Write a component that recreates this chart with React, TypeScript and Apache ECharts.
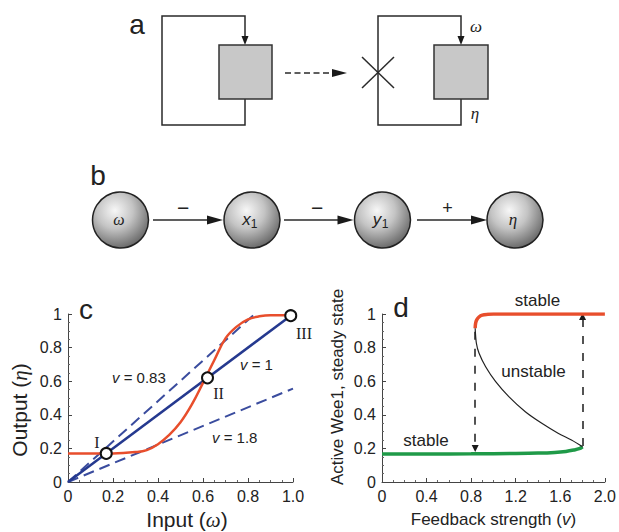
import React, { useEffect, useRef } from "react";
import * as echarts from "echarts";

// ---------- Panel c data ----------
const cXTicks = [0, 0.2, 0.4, 0.6, 0.8, 1.0];
const cRedX = [0, 0.1, 0.2, 0.3, 0.35, 0.4, 0.45, 0.5, 0.55, 0.6, 0.65, 0.7, 0.75, 0.8, 0.85, 0.9, 0.99];
const cRedY = [0.17, 0.17, 0.17, 0.178, 0.19, 0.225, 0.28, 0.355, 0.46, 0.59, 0.725, 0.855, 0.925, 0.968, 0.986, 0.993, 0.993];
const cV1X = [0, 0.99];
const cV1Y = [0, 0.99];
const cV083X = [0, 0.83];
const cV083Y = [0, 1.0];
const cV18X = [0, 1.0];
const cV18Y = [0, 0.556];
const cFixedX = [0.17, 0.62, 0.99];
const cFixedY = [0.17, 0.62, 0.99];

// ---------- Panel d data ----------
const dXTicks = [0, 0.4, 0.8, 1.2, 1.6, 2.0];
const dLowX = [0, 0.4, 0.8, 1.2, 1.4, 1.55, 1.65, 1.72, 1.77, 1.8];
const dLowY = [0.167, 0.167, 0.168, 0.17, 0.172, 0.176, 0.182, 0.19, 0.198, 0.21];
const dHighX = [0.836, 0.84, 0.85, 0.87, 0.9, 0.95, 1.0, 1.5, 2.0];
const dHighY = [0.915, 0.945, 0.965, 0.982, 0.993, 0.998, 1.0, 1.0, 1.0];
const dUnstX = [0.836, 0.847, 0.871, 0.93, 1.02, 1.138, 1.286, 1.434, 1.58, 1.7, 1.8];
const dUnstY = [0.915, 0.826, 0.766, 0.686, 0.597, 0.508, 0.418, 0.349, 0.29, 0.25, 0.21];
const dJumpDownX = 0.836;
const dJumpDownY = [0.895, 0.2];
const dJumpUpX = 1.8;
const dJumpUpY = [0.215, 0.985];

const FONT = '"Liberation Sans", Arial, Helvetica, sans-serif';
const SERIF = '"Liberation Serif", "DejaVu Serif", "Times New Roman", serif';
const TXT = "#222";
const RED = "#e84e2c";
const BLUE = "#25398f";
const BLUE_D = "#3a4c9e";
const GREEN = "#1f9a48";

const pairs = (xs: number[], ys: number[]) => xs.map((x, i) => [x, ys[i]]);

const txt = (x: number, y: number, text: string, size: number, extra: any = {}) => ({
  type: "text",
  x,
  y,
  z: 50,
  style: {
    text,
    fontSize: size,
    fontFamily: FONT,
    fill: TXT,
    align: "center",
    verticalAlign: "middle",
    ...extra,
  },
});

const line = (x1: number, y1: number, x2: number, y2: number, extra: any = {}) => ({
  type: "line",
  shape: { x1, y1, x2, y2 },
  style: { stroke: "#2a2a2a", lineWidth: 1.5, ...extra },
});

const tri = (pts: number[][]) => ({
  type: "polygon",
  shape: { points: pts },
  style: { fill: "#1a1a1a" },
});

function buildGraphic() {
  const g: any[] = [];
  // panel labels
  g.push(txt(137, 24, "a", 28));
  g.push(txt(98, 175, "b", 28));
  g.push(txt(86, 309, "c", 28));
  g.push(txt(401, 307, "d", 28));

  // ---- panel a ----
  const loop = (xl: number, xa: number) => ({
    type: "polyline",
    shape: { points: [[xa, 99], [xa, 125], [xl, 125], [xl, 16], [xa, 16], [xa, 37]] },
    style: { stroke: "#2a2a2a", lineWidth: 1.5, fill: null },
  });
  g.push(loop(162, 245));
  g.push(tri([[241.5, 36], [248.5, 36], [245, 45]]));
  g.push({ type: "rect", shape: { x: 219, y: 45, width: 53, height: 54 }, style: { fill: "#c8c8c8", stroke: "#333", lineWidth: 1.5 } });
  g.push(loop(378, 461));
  g.push(tri([[457.5, 36], [464.5, 36], [461, 45]]));
  g.push({ type: "rect", shape: { x: 434, y: 45, width: 54, height: 54 }, style: { fill: "#c8c8c8", stroke: "#333", lineWidth: 1.5 } });
  g.push(line(285, 73, 333, 73, { lineDash: [6, 3.5] }));
  g.push(tri([[332, 69], [332, 77], [347, 73]]));
  g.push(line(362, 57, 394, 88));
  g.push(line(362, 88, 394, 57));
  g.push(txt(476, 26, "ω", 17, { fontFamily: SERIF, fontStyle: "italic" }));
  g.push(txt(475, 113, "η", 17, { fontFamily: SERIF, fontStyle: "italic" }));

  // ---- panel b ----
  const centers = [120.5, 252, 382.5, 515];
  centers.forEach((cx) => {
    g.push({
      type: "circle",
      shape: { cx, cy: 220, r: 28 },
      style: {
        fill: new echarts.graphic.RadialGradient(0.4, 0.33, 0.72, [
          { offset: 0, color: "#f7f7f7" },
          { offset: 0.45, color: "#c4c4c4" },
          { offset: 1, color: "#616161" },
        ]),
        stroke: "#222",
        lineWidth: 1.5,
      },
    });
  });
  const arrows = [[153, 223], [284, 353.5], [417, 487]];
  arrows.forEach(([a, b]) => {
    g.push(line(a, 220, b - 14, 220));
    g.push(tri([[b - 16, 215.5], [b - 16, 224.5], [b, 220]]));
  });
  g.push(txt(183, 207, "−", 21));
  g.push(txt(317, 207, "−", 21));
  g.push(txt(447.5, 208, "+", 18));
  g.push(txt(119, 219, "ω", 16, { fontFamily: SERIF, fontStyle: "italic" }));
  g.push(txt(246.5, 219, "x", 17, { fontStyle: "italic" }));
  g.push(txt(254, 224, "1", 12));
  g.push(txt(377, 219, "y", 17, { fontStyle: "italic" }));
  g.push(txt(385, 224, "1", 12));
  g.push(txt(513, 219, "η", 17, { fontFamily: SERIF, fontStyle: "italic" }));

  // ---- panel c annotations ----
  const vRich = { i: { fontStyle: "italic", fontSize: 15, fontFamily: FONT, fill: TXT } };
  g.push(txt(112, 377, "{i|v} = 0.83", 15, { align: "left", rich: vRich }));
  g.push(txt(240, 364, "{i|v} = 1", 15, { align: "left", rich: vRich }));
  g.push(txt(212, 437, "{i|v} = 1.8", 15, { align: "left", rich: vRich }));
  g.push(txt(97, 442, "I", 16, { fontFamily: SERIF }));
  g.push(txt(218.5, 393, "II", 16, { fontFamily: SERIF }));
  g.push(txt(304, 333, "III", 16, { fontFamily: SERIF }));

  // ---- panel d annotations ----
  g.push(txt(537.5, 300, "stable", 17));
  g.push(txt(533.5, 371, "unstable", 17));
  g.push(txt(426, 440, "stable", 17));
  return g;
}

const axisCommon = (min: number, max: number, interval: number, fmt: (v: number) => string) => ({
  type: "value",
  min,
  max,
  interval,
  axisLine: { show: true, onZero: false, lineStyle: { color: "#444", width: 1 } },
  axisTick: { show: true, inside: true, length: 4, lineStyle: { color: "#444" } },
  minorTick: { show: true, splitNumber: 4, length: 2, lineStyle: { color: "#666" } },
  splitLine: { show: false },
  axisLabel: {
    fontSize: 16,
    fontFamily: FONT,
    color: TXT,
    margin: 6,
    formatter: fmt,
    showMinLabel: true,
    showMaxLabel: true,
    hideOverlap: false,
  },
  nameLocation: "middle",
  nameTextStyle: { fontSize: 17, fontFamily: FONT, color: TXT },
});

const fmtX = (v: number) => (v === 0 ? "0" : v.toFixed(1));
const fmtY = (v: number) => (v === 0 ? "0" : v === 1 ? "1" : v.toFixed(1));

export default function App() {
  const ref = useRef<HTMLDivElement>(null);
  useEffect(() => {
    const chart = echarts.init(ref.current!, null, { renderer: "svg" });
    chart.setOption({
      animation: false,
      backgroundColor: "#fff",
      grid: [
        { left: 68, top: 314, width: 225, height: 168, containLabel: false },
        { left: 382, top: 314, width: 225, height: 168, containLabel: false },
      ],
      xAxis: [
        {
          ...axisCommon(cXTicks[0], cXTicks[cXTicks.length - 1], 0.2, fmtX),
          gridIndex: 0,
          name: "Input ({g|ω})",
          nameGap: 27,
          nameTextStyle: {
            fontSize: 21,
            fontFamily: FONT,
            color: TXT,
            padding: [0, 0, 0, 13],
            rich: { g: { fontFamily: SERIF, fontStyle: "italic", fontSize: 21, color: TXT } },
          },
        },
        {
          ...axisCommon(dXTicks[0], dXTicks[dXTicks.length - 1], 0.4, fmtX),
          gridIndex: 1,
          name: "Feedback strength ({i|v})",
          nameGap: 29,
          nameTextStyle: {
            fontSize: 17,
            fontFamily: FONT,
            color: TXT,
            rich: { i: { fontFamily: FONT, fontStyle: "italic", fontSize: 17, color: TXT } },
          },
        },
      ],
      yAxis: [
        {
          ...axisCommon(0, 1, 0.2, fmtY),
          gridIndex: 0,
          name: "Output ({g|η})",
          nameGap: 38,
          nameTextStyle: {
            fontSize: 21,
            fontFamily: FONT,
            color: TXT,
            padding: [0, 24, 0, 0],
            rich: { g: { fontFamily: SERIF, fontStyle: "italic", fontSize: 21, color: TXT } },
          },
        },
        {
          ...axisCommon(0, 1, 0.2, fmtY),
          gridIndex: 1,
          name: "Active Wee1, steady state",
          nameGap: 36,
          nameTextStyle: { fontSize: 17, fontFamily: FONT, color: TXT, padding: [0, 0, 0, 22] },
        },
      ],
      series: [
        {
          type: "line",
          xAxisIndex: 0,
          yAxisIndex: 0,
          data: pairs(cV083X, cV083Y),
          symbol: "none",
          lineStyle: { color: BLUE_D, width: 2, type: [11, 6] },
        },
        {
          type: "line",
          xAxisIndex: 0,
          yAxisIndex: 0,
          data: pairs(cV18X, cV18Y),
          symbol: "none",
          lineStyle: { color: BLUE_D, width: 2, type: [11, 6] },
        },
        {
          type: "line",
          xAxisIndex: 0,
          yAxisIndex: 0,
          data: pairs(cV1X, cV1Y),
          symbol: "none",
          lineStyle: { color: BLUE, width: 2.5 },
        },
        {
          type: "line",
          xAxisIndex: 0,
          yAxisIndex: 0,
          data: pairs(cRedX, cRedY),
          symbol: "none",
          smooth: 0.4,
          lineStyle: { color: RED, width: 2.5 },
        },
        {
          type: "scatter",
          xAxisIndex: 0,
          yAxisIndex: 0,
          data: pairs(cFixedX, cFixedY),
          symbol: "circle",
          symbolSize: 11,
          z: 10,
          itemStyle: { color: "#ffffff", borderColor: "#111", borderWidth: 2, opacity: 1 },
        },
        // panel d
        {
          type: "line",
          xAxisIndex: 1,
          yAxisIndex: 1,
          data: pairs(dLowX, dLowY),
          symbol: "none",
          smooth: 0.3,
          lineStyle: { color: GREEN, width: 3.5 },
        },
        {
          type: "line",
          xAxisIndex: 1,
          yAxisIndex: 1,
          data: pairs(dHighX, dHighY),
          symbol: "none",
          smooth: 0.4,
          lineStyle: { color: RED, width: 3.5 },
        },
        {
          type: "line",
          xAxisIndex: 1,
          yAxisIndex: 1,
          data: pairs(dUnstX, dUnstY),
          symbol: "none",
          smooth: 0.3,
          lineStyle: { color: "#222", width: 1.2 },
        },
        {
          type: "lines",
          coordinateSystem: "cartesian2d",
          xAxisIndex: 1,
          yAxisIndex: 1,
          symbol: ["none", "triangle"],
          symbolSize: 7,
          lineStyle: { color: "#1a1a1a", width: 1.5, type: [8, 9], opacity: 1 },
          data: [
            { coords: [[dJumpDownX, dJumpDownY[0]], [dJumpDownX, dJumpDownY[1]]] },
            { coords: [[dJumpUpX, dJumpUpY[0]], [dJumpUpX, dJumpUpY[1]]] },
          ],
        },
      ],
      graphic: buildGraphic(),
    });
    return () => chart.dispose();
  }, []);
  return (
    <div
      ref={ref}
      style={{ position: "absolute", left: 0, top: 0, width: 619, height: 532, background: "#fff" }}
    />
  );
}
